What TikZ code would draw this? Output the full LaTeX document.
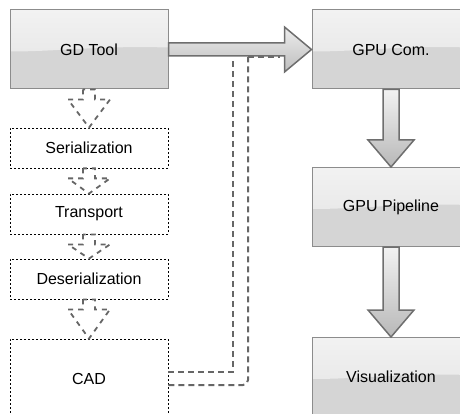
\documentclass[tikz,border=0pt]{standalone}
\usepackage{fontspec}
\setmainfont{Liberation Sans}
\usetikzlibrary{calc}
\definecolor{bordergray}{HTML}{8C8C8C}
\definecolor{boxtop}{HTML}{F2F2F2}
\definecolor{boxmid}{HTML}{E2E2E2}
\definecolor{boxlow}{HTML}{D5D5D5}
\definecolor{arrowline}{HTML}{6E6E6E}
\definecolor{dashgray}{HTML}{666666}
\definecolor{harrtop}{HTML}{ECECEC}
\definecolor{harrbot}{HTML}{BEBEBE}
\definecolor{varrtop}{HTML}{F2F2F2}
\definecolor{varrbot}{HTML}{B8B8B8}
\tikzset{
  glossbox/.style={draw=bordergray, line width=1pt, fill=boxlow,
    minimum width=158pt, minimum height=79pt, inner sep=0pt,
    font=\fontsize{16}{19}\selectfont,
    path picture={\shade[top color=boxtop, bottom color=boxmid]
      (path picture bounding box.north west) --
      (path picture bounding box.north east) --
      ($(path picture bounding box.east)+(0,2pt)$) .. controls
      ($(path picture bounding box.center)+(10pt,4pt)$) and
      ($(path picture bounding box.center)+(-30pt,-2pt)$) ..
      ($(path picture bounding box.west)+(0,-2pt)$) -- cycle;}},
  stagebox/.style={draw=black, dash pattern=on 2pt off 2pt, line width=0.8pt,
    minimum width=158pt, minimum height=40pt, inner sep=0pt,
    font=\fontsize{16}{19}\selectfont},
  bigarrowh/.style={draw=arrowline, line width=1.5pt, line join=miter,
    top color=harrtop, bottom color=harrbot},
  bigarrowv/.style={draw=arrowline, line width=1.5pt, line join=miter,
    top color=varrtop, bottom color=varrbot},
  flowdash/.style={draw=dashgray, line width=1.8pt, dash pattern=on 5pt off 5pt},
  conndash/.style={draw=dashgray, line width=2pt, dash pattern=on 6pt off 4pt}
}
\newcommand\smallflow[2]{%
  \draw[flowdash] ($(#1.south)+(-6,0)$) -- ++(0,10) -- ++(-15,0) -- (#2.north)
    -- ($(#1.south)+(21,10)$) -- ++(-15,0) -- ++(0,-10) -- cycle;}
\begin{document}
\begin{tikzpicture}[x=1pt,y=-1pt]
\useasboundingbox (0,0) rectangle (460,414);
% boxes
\node[glossbox] (gd) at (89,49.5) {GD Tool};
\node[glossbox] (gpucom) at (391,49.5) {GPU Com.};
\node[glossbox] (gpupipe) at (391,207) {GPU Pipeline};
\node[glossbox] (vis) at (391,377) {Visualization};
\node[stagebox] (ser) at (89,148) {Serialization};
\node[stagebox] (trans) at (89,214) {Transport};
\node[stagebox] (deser) at (89,279) {Deserialization};
\node[stagebox, minimum height=80pt] (cad) at (89,379) {CAD};
% dashed connector from CAD
\coordinate (jA) at (233,57);
\coordinate (jB) at (248,57);
\coordinate (jBend) at (280,57);
\draw[conndash] ($(cad.east)+(0,-7)$) -| (jA);
\draw[conndash, rounded corners=5pt] ($(cad.east)+(0,6)$) -| (jB);
\draw[conndash] (jB) -- (jBend);
% small dashed arrows
\smallflow{gd}{ser}
\smallflow{ser}{trans}
\smallflow{trans}{deser}
\smallflow{deser}{cad}
% big arrows
\draw[bigarrowh] ($(gd.east)+(0,-6.5)$) -- ($(gpucom.west)+(-27,-6.5)$)
  -- ($(gpucom.west)+(-27,-22.5)$) -- (gpucom.west)
  -- ($(gpucom.west)+(-27,22.5)$) -- ($(gpucom.west)+(-27,6.5)$)
  -- ($(gd.east)+(0,6.5)$) -- cycle;
\draw[bigarrowv] ($(gpucom.south)+(-8,0)$) -- ($(gpupipe.north)+(-8,-27)$)
  -- ($(gpupipe.north)+(-23,-27)$) -- (gpupipe.north)
  -- ($(gpupipe.north)+(23,-27)$) -- ($(gpupipe.north)+(8,-27)$)
  -- ($(gpucom.south)+(8,0)$) -- cycle;
\draw[bigarrowv] ($(gpupipe.south)+(-8,0)$) -- ($(vis.north)+(-8,-27)$)
  -- ($(vis.north)+(-23,-27)$) -- (vis.north)
  -- ($(vis.north)+(23,-27)$) -- ($(vis.north)+(8,-27)$)
  -- ($(gpupipe.south)+(8,0)$) -- cycle;
\end{tikzpicture}
\end{document}
